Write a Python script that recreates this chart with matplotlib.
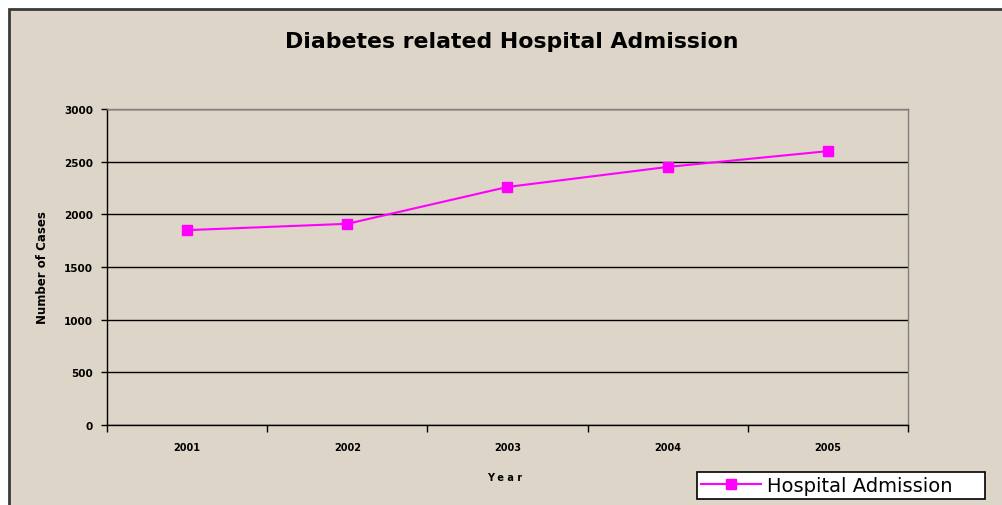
import matplotlib.pyplot as plt
from matplotlib.patches import Rectangle

# data
years = ['2001', '2002', '2003', '2004', '2005']
admissions = [1850, 1910, 2260, 2450, 2600]
y_ticks = [0, 500, 1000, 1500, 2000, 2500, 3000]

bg = '#ddd5c7'

fig = plt.figure(figsize=(10.03, 5.06), dpi=100)
fig.patch.set_facecolor('white')

# outer chart frame
frame = Rectangle((9 / 1003, -0.05), 1.1, 1 - 10 / 506 + 0.05,
                  transform=fig.transFigure, facecolor=bg,
                  edgecolor='#3a3a3a', linewidth=2, zorder=-10)
fig.patches.append(frame)

ax = fig.add_axes([107 / 1003, 80 / 506, 801 / 1003, 316 / 506])
ax.set_facecolor(bg)
ax.set_zorder(1)

x = list(range(len(years)))
ax.plot(x, admissions, color='#ff00ff', linewidth=1.5, marker='s',
        markersize=7, label='Hospital Admission', zorder=3)

ax.set_ylim(0, 3000)
ax.set_yticks(y_ticks)
ax.set_yticklabels([str(v) for v in y_ticks], fontsize=7.5, fontweight='bold',
                   family='DejaVu Sans')
ax.yaxis.grid(True, color='black', linewidth=1)

ax.set_xlim(-0.5, len(years) - 0.5)
ax.set_xticks([i - 0.5 for i in range(len(years) + 1)])
ax.set_xticklabels([])
ax.set_xticks(x, minor=True)
ax.set_xticklabels(years, minor=True, fontsize=7, fontweight='bold',
                   family='DejaVu Sans')
ax.tick_params(axis='x', which='minor', length=0, pad=12)
ax.tick_params(axis='x', which='major', length=5, direction='out', width=1)
ax.tick_params(axis='y', length=4, direction='out', width=1, pad=6)

for s in ['top', 'right']:
    ax.spines[s].set_color('#808080')
    ax.spines[s].set_linewidth(1)
for s in ['left', 'bottom']:
    ax.spines[s].set_color('black')
    ax.spines[s].set_linewidth(1)

fig.text(512 / 1003, 1 - 42 / 506, 'Diabetes related Hospital Admission',
         ha='center', va='center', fontsize=15.8, fontweight='bold',
         family='DejaVu Sans')
fig.text(42 / 1003, 1 - 268 / 506, 'Number of Cases', rotation=90,
         ha='center', va='center', fontsize=8.5, fontweight='bold',
         family='DejaVu Sans')
fig.text(505 / 1003, 1 - 478 / 506, 'Y e a r', ha='center', va='center',
         fontsize=7, fontweight='bold', family='DejaVu Sans')

leg = ax.legend(loc='lower left', bbox_to_anchor=(697 / 1003, 6 / 506, 288 / 1003, 37 / 506),
                bbox_transform=fig.transFigure, mode='expand', frameon=True,
                fancybox=False, edgecolor='black', facecolor='white', framealpha=1,
                prop={'family': 'DejaVu Sans', 'size': 14},
                handlelength=3.1, handletextpad=0.3, borderaxespad=0,
                borderpad=0.2)
leg.get_frame().set_linewidth(1.2)

fig.savefig('out.png', dpi=100, facecolor=fig.get_facecolor())
